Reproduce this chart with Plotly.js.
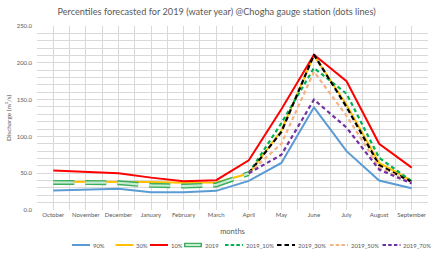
<!DOCTYPE html>
<html>
<head>
<meta charset="utf-8">
<script src="https://cdn.plot.ly/plotly-3.0.1.min.js"></script>
<style>html,body{margin:0;padding:0;background:#fff;}#chart{width:433px;height:256px;}</style>
</head>
<body>
<div id="chart"></div>
<script>
// ---- data ----
const months = ["October","November","December","January","February","March","April","May","June","July","August","September"];
const p90 = [26.5, 27.5, 28.8, 24, 24, 26, 39.5, 64, 139.5, 80, 40, 29.5];
const p30 = [38.5, 38.5, 38.5, 38, 37, 37.5, 49.5, 108, 210, 143, 64, 40];
const p10 = [53.5, 51.5, 50, 44, 39, 40.5, 67.5, 137, 211, 175, 90, 57.5];
const y2019 = [37.5, 37, 37, 33.5, 32.5, 34, 49.5, null, null, null, null, null];
const f10 = [null, null, null, null, null, null, 50, 118, 193, 158, 71, 39];
const f30 = [null, null, null, null, null, null, 50, 106, 211, 140, 61, 38];
const f50 = [null, null, null, null, null, null, 50, 90, 188, 128, 58, 37];
const f70 = [null, null, null, null, null, null, 50, 75, 150, 112, 55, 36];
const yTicks = [0, 50, 100, 150, 200, 250];

const xi = months.map((m, i) => i);

const series = [
  {name: "90%", y: p90, color: "#5B9BD5", width: 2, dash: "solid"},
  {name: "30%", y: p30, color: "#FFC000", width: 2, dash: "solid"},
  {name: "10%", y: p10, color: "#FF0000", width: 2, dash: "solid"},
  {name: "2019", y: y2019, color: "#3DAE5E", inner: "#C9EDD3", width: 5, dash: "21px,11px"},
  {name: "2019_10%", y: f10, color: "#00B050", width: 2.2, dash: "4px,3px"},
  {name: "2019_30%", y: f30, color: "#000000", width: 2.2, dash: "5px,3px"},
  {name: "2019_50%", y: f50, color: "#F4B183", width: 2.2, dash: "4px,3px"},
  {name: "2019_70%", y: f70, color: "#7030A0", width: 2.2, dash: "4px,3px"}
];

const traces = [];
series.forEach(s => {
  traces.push({x: xi, y: s.y, mode: "lines", name: s.name, showlegend: false,
    line: {color: s.color, width: s.width, dash: s.dash}, hoverinfo: "skip"});
  if (s.inner) {
    traces.push({x: xi, y: s.y, mode: "lines", name: s.name + " inner", showlegend: false,
      line: {color: s.inner, width: 2.2, dash: s.dash}, hoverinfo: "skip"});
  }
});

// ---- custom one-row legend (pixel layout of the reference) ----
const W = 433, H = 256, mL = 37, mR = 5, mT = 26, mB = 46;
const pw = W - mL - mR, ph = H - mT - mB;
const legendPx = [72, 115.5, 150, 184, 225, 277, 330, 382.5];
const sampleLen = 18;
const legendYpx = 245;
const toPX = px => (px - mL) / pw;
const ly = (H - mB - legendYpx) / ph;
const shapes = [], annotations = [];
series.forEach((s, i) => {
  const x0 = toPX(legendPx[i]), x1 = toPX(legendPx[i] + sampleLen);
  const legendDash = s.dash === "5px,3px" ? "4.5px,3px" : (s.dash === "4px,3px" ? "3.5px,2.2px" : "solid");
  shapes.push({type: "line", xref: "paper", yref: "paper", x0: x0, x1: x1, y0: ly, y1: ly,
    line: {color: s.color, width: s.inner ? 4.5 : s.width, dash: legendDash}});
  if (s.inner) {
    shapes.push({type: "line", xref: "paper", yref: "paper", x0: toPX(legendPx[i] + 1.5), x1: toPX(legendPx[i] + sampleLen - 1.5), y0: ly, y1: ly,
      line: {color: s.inner, width: 2, dash: "solid"}});
  }
  annotations.push({xref: "paper", yref: "paper", x: toPX(legendPx[i] + sampleLen + 1.5), y: ly, xanchor: "left", yanchor: "middle",
    text: s.name, showarrow: false, font: {size: 5.9, color: "#595959"}, borderpad: 0});
});

const layout = {
  width: W, height: H,
  margin: {l: mL, r: mR, t: mT, b: mB, pad: 0},
  paper_bgcolor: "#ffffff", plot_bgcolor: "#ffffff",
  font: {family: "Lato, 'Liberation Sans', sans-serif", color: "#595959", size: 7},
  title: {text: "Percentiles forecasted for 2019 (water year) @Chogha gauge station (dots lines)",
    font: {size: 9.2, color: "#595959"}, x: 0.5, xref: "container", xanchor: "center",
    y: 1 - 12 / H, yref: "container", yanchor: "middle"},
  xaxis: {
    range: [-0.5, 11.5], tickmode: "array", tickvals: xi, ticktext: months,
    showgrid: true, gridcolor: "#D9D9D9", gridwidth: 1, zeroline: false, showline: false,
    ticks: "", tickfont: {size: 6, color: "#595959"}, fixedrange: true,
    minor: {tick0: 0.5, dtick: 1, showgrid: true, gridcolor: "#D9D9D9", gridwidth: 1, ticks: ""},
    title: {text: "months", font: {size: 7.5, color: "#595959"}, standoff: 11}
  },
  yaxis: {
    range: [0, 250], tickmode: "array", tickvals: yTicks, tickformat: ".1f",
    showgrid: true, gridcolor: "#D9D9D9", gridwidth: 1, zeroline: false, showline: false,
    ticks: "", ticklabelstandoff: 4, tickfont: {size: 6, color: "#595959"}, fixedrange: true,
    minor: {dtick: 10, tick0: 0, showgrid: true, gridcolor: "#D9D9D9", gridwidth: 1, ticks: ""},
    title: {text: "Discharge (m³/s)", font: {size: 6.5, color: "#595959"}, standoff: 4}
  },
  shapes: shapes,
  annotations: annotations,
  showlegend: false
};

Plotly.newPlot("chart", traces, layout, {displayModeBar: false, staticPlot: true});
</script>
</body>
</html>
